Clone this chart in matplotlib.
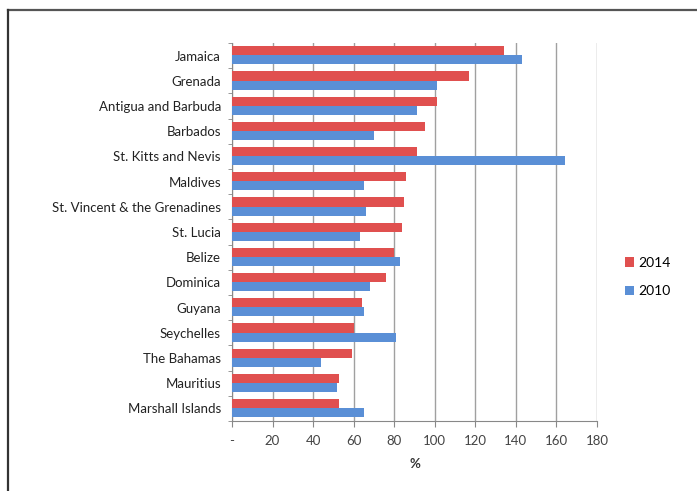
import matplotlib
matplotlib.use("Agg")
import matplotlib.pyplot as plt
import numpy as np
from matplotlib.lines import Line2D

countries = ["Jamaica", "Grenada", "Antigua and Barbuda", "Barbados", "St. Kitts and Nevis",
             "Maldives", "St. Vincent & the Grenadines", "St. Lucia", "Belize", "Dominica",
             "Guyana", "Seychelles", "The Bahamas", "Mauritius", "Marshall Islands"]
v2014 = [134, 117, 101, 95, 91, 86, 85, 84, 80, 76, 64, 60, 59, 53, 53]
v2010 = [143, 101, 91, 70, 164, 65, 66, 63, 83, 68, 65, 81, 44, 52, 65]
xticks = [0, 20, 40, 60, 80, 100, 120, 140, 160, 180]
xticklabels = ["-", "20", "40", "60", "80", "100", "120", "140", "160", "180"]

plt.rcParams['font.family'] = ['Lato', 'DejaVu Sans']

fig = plt.figure(figsize=(6.97, 4.91), dpi=100)
ax = fig.add_axes([232/697, 1-421/491, 365/697, 378/491])

n = len(countries)
y = np.arange(n)[::-1]
h = 0.36
red = "#e0504f"
blue = "#5a8fd6"
ax.barh(y + h/2 + 0.01, v2014, height=h, color=red, label="2014", zorder=3)
ax.barh(y - h/2 + 0.01, v2010, height=h, color=blue, label="2010", zorder=3)

ax.set_xlim(0, 180)
ax.set_ylim(-0.5, n - 0.5)
ax.set_xticks(xticks)
ax.set_xticklabels(xticklabels, fontsize=9.5, color="#444444")
ax.set_yticks(y)
ax.set_yticklabels(countries, fontsize=9.5, color="#222222")
ax.tick_params(axis='y', length=0, pad=8)
ax.set_yticks(np.arange(n + 1) - 0.5, minor=True)
ax.tick_params(axis='y', which='minor', length=3, color="#888888")
ax.tick_params(axis='x', length=4, color="#888888", pad=6)
ax.grid(axis='x', color="#a0a0a0", linewidth=1.0, zorder=0)
for s in ["top", "right"]:
    ax.spines[s].set_visible(False)
ax.spines["left"].set_color("#888888")
ax.spines["bottom"].set_color("#888888")
ax.set_xlabel("%", fontsize=9.5, fontweight="bold", color="#333333", labelpad=8)

leg = fig.legend(loc="center left", bbox_to_anchor=(612/697, 1-277/491), frameon=False,
                 fontsize=10, handlelength=0.7, handleheight=0.7, labelspacing=1.2,
                 handletextpad=0.3)

# outer frame: top and left edges only
fig.add_artist(Line2D([7.5/697, 1.0], [1-9.5/491, 1-9.5/491], transform=fig.transFigure,
                      color="#555555", linewidth=1.6))
fig.add_artist(Line2D([7.5/697, 7.5/697], [0.0, 1-9.5/491], transform=fig.transFigure,
                      color="#333333", linewidth=1.6))

fig.savefig("out.png", dpi=100)
